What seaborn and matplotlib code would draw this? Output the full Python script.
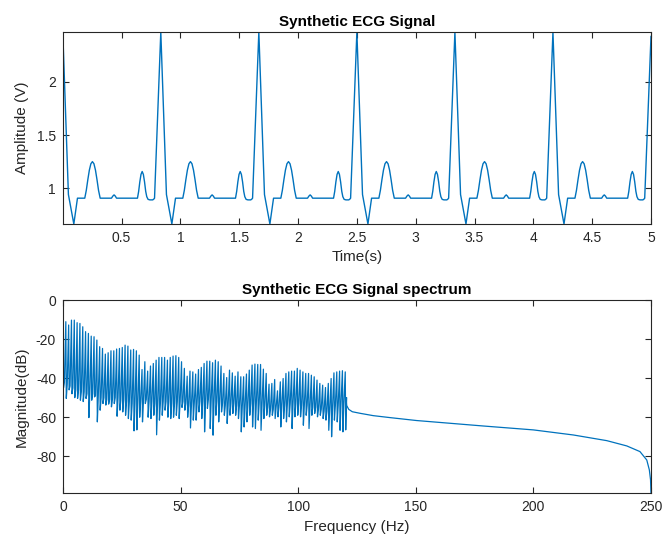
import numpy as np
import pandas as pd
import matplotlib
matplotlib.use("Agg")
import matplotlib.pyplot as plt
import seaborn as sns

# ---------------------------------------------------------------------------
# ECG: one beat (time from R peak, volts); beat repeats
# ---------------------------------------------------------------------------
beat_period = 0.8333
n_beats = 6
beat_t = [0.000, 0.048, 0.094, 0.125, 0.187,
          0.200, 0.213, 0.226, 0.239, 0.252, 0.265, 0.278, 0.291, 0.304, 0.318,
          0.414, 0.425, 0.436, 0.447, 0.457,
          0.635, 0.645, 0.655, 0.665, 0.675, 0.685, 0.695, 0.705, 0.714,
          0.725, 0.740, 0.765, 0.776, 0.780]
beat_v = [2.47, 0.94, 0.663, 0.906, 0.906,
          0.98, 1.08, 1.17, 1.23, 1.25, 1.23, 1.17, 1.08, 0.98, 0.906,
          0.906, 0.925, 0.937, 0.925, 0.906,
          0.906, 0.97, 1.06, 1.13, 1.157, 1.13, 1.06, 0.97, 0.92,
          0.895, 0.89, 0.89, 0.90, 0.906]
end_t, end_v = 5.0, 2.43

# ---------------------------------------------------------------------------
# Spectrum: harmonics of 1.2 Hz up to 120 Hz (peak / spike bottom / band level)
# ---------------------------------------------------------------------------
harm_step = 1.2
peak_db = [0.0,
           -11.1, -12.8, -10.3, -10.3, -11.6, -12.0, -13.7, -16.2, -17.1, -18.5,
           -18.8, -20.5, -23.9, -24.8, -27.7, -27.0, -26.0, -26.0, -25.1, -24.8,
           -24.3, -23.1, -23.6, -25.6, -25.3, -26.0, -28.2, -35.6, -31.6, -36.4,
           -33.8, -32.5, -30.8, -29.4, -29.4, -29.4, -30.8, -29.4, -28.7, -28.5,
           -29.4, -31.6, -35.0, -39.0, -36.4, -36.8, -37.9, -35.6, -34.5, -32.5,
           -31.3, -31.3, -32.1, -30.8, -31.6, -33.8, -37.6, -39.7, -35.9, -37.3,
           -39.0, -36.8, -39.3, -39.3, -37.9, -35.9, -33.3, -32.8, -33.0, -33.0,
           -35.4, -37.6, -43.1, -42.7, -40.7, -46.5, -41.9, -40.2, -37.6, -36.8,
           -36.4, -36.4, -35.0, -35.9, -36.8, -37.6, -37.6, -38.5, -39.3, -41.0,
           -42.7, -43.6, -44.8, -42.7, -40.2, -37.3, -36.8, -36.4, -36.2, -36.8]
low_db = [-45.0,
          -50.4, -46.0, -48.0, -50.0, -50.4, -51.3, -52.0, -50.4, -60.2, -51.3,
          -49.6, -62.4, -56.4, -53.0, -53.8, -53.3, -54.7, -53.0, -59.5, -56.4,
          -57.3, -59.0, -60.7, -61.5, -67.0, -66.5, -60.0, -62.4, -53.0, -60.0,
          -60.7, -59.0, -69.0, -61.5, -59.0, -56.4, -60.0, -60.7, -60.0, -59.0,
          -60.7, -55.0, -56.4, -60.0, -65.5, -61.5, -61.5, -57.3, -60.7, -67.5,
          -55.5, -65.8, -69.2, -59.0, -62.4, -57.3, -59.0, -63.2, -59.0, -58.1,
          -59.0, -60.7, -67.5, -65.0, -62.4, -59.0, -65.0, -65.8, -61.5, -66.7,
          -60.7, -59.0, -59.8, -59.0, -60.7, -59.8, -65.0, -60.7, -62.4, -59.8,
          -65.8, -59.8, -59.0, -59.8, -64.1, -59.0, -65.8, -59.0, -58.1, -59.8,
          -59.0, -60.7, -61.5, -66.7, -70.0, -61.5, -62.4, -66.7, -67.5, -66.5]
band_db = [-42.0,
           -43.0, -44.0, -45.0, -46.0, -46.0, -47.0, -47.0, -48.0, -48.0, -48.0,
           -49.0, -49.0, -50.0, -50.0, -51.0, -51.0, -51.0, -50.0, -50.0, -51.0,
           -51.0, -52.0, -52.0, -53.0, -53.0, -53.0, -52.0, -52.0, -51.0, -52.0,
           -52.0, -53.0, -53.0, -53.0, -52.0, -52.0, -52.0, -53.0, -53.0, -52.0,
           -52.0, -52.0, -53.0, -54.0, -54.0, -53.0, -53.0, -52.0, -52.0, -52.0,
           -51.0, -51.0, -52.0, -52.0, -52.0, -53.0, -54.0, -54.0, -53.0, -53.0,
           -54.0, -54.0, -55.0, -55.0, -54.0, -53.0, -53.0, -53.0, -53.0, -54.0,
           -54.0, -55.0, -56.0, -56.0, -55.0, -55.0, -54.0, -54.0, -53.0, -53.0,
           -53.0, -53.0, -53.0, -54.0, -54.0, -54.0, -55.0, -55.0, -55.0, -56.0,
           -56.0, -57.0, -57.0, -56.0, -55.0, -54.0, -54.0, -53.0, -53.0, -50.0]
tail_freq = [120.3, 120.6, 121.5, 123.0, 126.3, 131.9, 139.0, 150.3, 164.5, 178.7,
             200.0, 217.0, 231.2, 239.7, 245.3, 248.2, 249.3, 249.8, 250.0]
tail_db = [-50.0, -54.0, -56.0, -57.2, -58.0, -59.2, -60.2, -61.7, -63.1, -64.5,
           -66.5, -69.1, -72.0, -74.7, -77.6, -81.9, -87.0, -92.0, -99.0]

# ---------------------------------------------------------------------------
# Build series
# ---------------------------------------------------------------------------
ecg_t = [t + i * beat_period for i in range(n_beats) for t in beat_t] + [end_t]
ecg_v = [v for i in range(n_beats) for v in beat_v] + [end_v]
ecg = pd.DataFrame({"t": ecg_t, "v": ecg_v})

spec_f, spec_db = [], []
for k, (p, lo, b) in enumerate(zip(peak_db, low_db, band_db)):
    fk = k * harm_step
    spec_f += [fk, fk + 0.2, fk + 0.6]
    spec_db += [p, lo, b]
spec_f += tail_freq
spec_db += tail_db
spec = pd.DataFrame({"f": spec_f, "db": spec_db})

# ---------------------------------------------------------------------------
# Plot (MATLAB look)
# ---------------------------------------------------------------------------
sns.set_theme(style="ticks")
plt.rcParams["font.family"] = ["Liberation Sans", "DejaVu Sans"]
plt.rcParams["axes.unicode_minus"] = False
line_color = "#0072BD"
ink = "#262626"

fig = plt.figure(figsize=(6.65, 5.43), dpi=100)
W, H = 665, 543
ax1 = fig.add_axes([63 / W, (H - 224) / H, 588 / W, 192 / H])
ax2 = fig.add_axes([63 / W, (H - 493) / H, 588 / W, 193 / H])

sns.lineplot(data=ecg, x="t", y="v", ax=ax1, color=line_color, linewidth=1.0,
             sort=False, estimator=None)
sns.lineplot(data=spec, x="f", y="db", ax=ax2, color=line_color, linewidth=0.9,
             sort=False, estimator=None)

ax1.set_xlim(0.002, 5)
ax1.set_ylim(0.663, 2.47)
ax1.set_xticks([0.5, 1, 1.5, 2, 2.5, 3, 3.5, 4, 4.5, 5])
ax1.set_xticklabels(["0.5", "1", "1.5", "2", "2.5", "3", "3.5", "4", "4.5", "5"])
ax1.set_yticks([1, 1.5, 2])
ax1.set_yticklabels(["1", "1.5", "2"])
ax1.set_title("Synthetic ECG Signal", fontsize=11, fontweight="bold", pad=4, color="black")
ax1.set_xlabel("Time(s)", fontsize=11, color=ink, labelpad=4)
ax1.set_ylabel("Amplitude (V)", fontsize=11, color=ink)

ax2.set_xlim(0, 250)
ax2.set_ylim(-98.8, 0)
ax2.set_xticks([0, 50, 100, 150, 200, 250])
ax2.set_yticks([-80, -60, -40, -20, 0])
ax2.set_title("Synthetic ECG Signal spectrum", fontsize=11, fontweight="bold", pad=4, color="black")
ax2.set_xlabel("Frequency (Hz)", fontsize=11, color=ink, labelpad=4)
ax2.set_ylabel("Magnitude(dB)", fontsize=11, color=ink)

for ax in (ax1, ax2):
    for s in ax.spines.values():
        s.set_visible(True)
        s.set_color(ink)
        s.set_linewidth(0.8)
    ax.tick_params(direction="in", top=True, right=True, length=4, width=0.8,
                   colors=ink, labelsize=10, pad=5)
    ax.yaxis.set_label_coords(-0.058, 0.5)
    ax.grid(False)

fig.savefig("out.png", dpi=100, facecolor="white")
